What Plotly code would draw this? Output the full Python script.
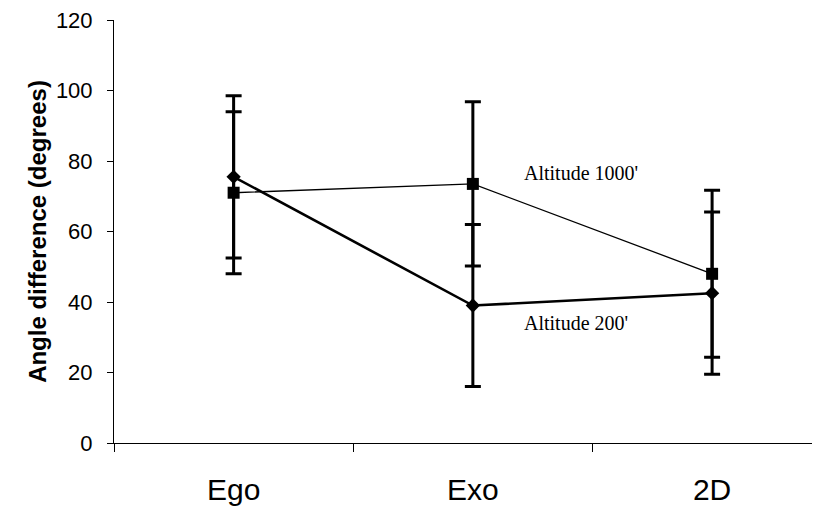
import plotly.graph_objects as go

categories = ["Ego", "Exo", "2D"]
alt200 = [75.5, 39.0, 42.5]
alt200_err = [23.0, 23.0, 23.0]
alt1000 = [71.0, 73.5, 48.0]
alt1000_err = [23.0, 23.3, 23.7]
y_ticks = [0, 20, 40, 60, 80, 100, 120]

fig = go.Figure()

fig.add_trace(go.Scatter(
    x=categories, y=alt1000, mode="lines+markers",
    line=dict(color="black", width=1.3),
    marker=dict(symbol="square", size=12, color="black"),
    error_y=dict(type="data", array=alt1000_err, visible=True,
                 color="black", thickness=3, width=8),
    showlegend=False,
))
fig.add_trace(go.Scatter(
    x=categories, y=alt200, mode="lines+markers",
    line=dict(color="black", width=2.6),
    marker=dict(symbol="diamond", size=11, color="black"),
    error_y=dict(type="data", array=alt200_err, visible=True,
                 color="black", thickness=3, width=8),
    showlegend=False,
))

fig.add_annotation(x=1.207, y=76.6, xref="x", yref="y", text="Altitude 1000'",
                   showarrow=False, xanchor="left", yanchor="middle",
                   font=dict(family="Liberation Serif", size=20, color="black"))
fig.add_annotation(x=1.207, y=34.0, xref="x", yref="y", text="Altitude 200'",
                   showarrow=False, xanchor="left", yanchor="middle",
                   font=dict(family="Liberation Serif", size=20, color="black"))

fig.update_layout(
    width=820, height=511,
    margin=dict(l=106, r=8, t=12, b=76, autoexpand=False),
    paper_bgcolor="white", plot_bgcolor="white",
    font=dict(family="Liberation Sans", color="black"),
)
fig.update_xaxes(
    type="category", range=[-0.5, 2.451],
    showline=True, linecolor="black", linewidth=1,
    ticks="outside", tickson="boundaries", ticklen=8, tickcolor="black", tickwidth=1,
    showgrid=False, zeroline=False, ticklabelstandoff=20,
    tickfont=dict(family="Liberation Sans", size=30, color="black"),
)
fig.update_yaxes(
    range=[0, 120], tickvals=y_ticks, ticklabeloverflow="allow",
    showline=True, linecolor="black", linewidth=1,
    ticks="outside", ticklen=6, tickcolor="black", tickwidth=1,
    showgrid=False, zeroline=False, ticklabelstandoff=10,
    tickfont=dict(family="Liberation Sans", size=22, color="black"),
    title=dict(text="<b>Angle difference (degrees)</b>", standoff=2,
               font=dict(family="Liberation Sans", size=24, color="black")),
)

fig.write_html("out.html")
